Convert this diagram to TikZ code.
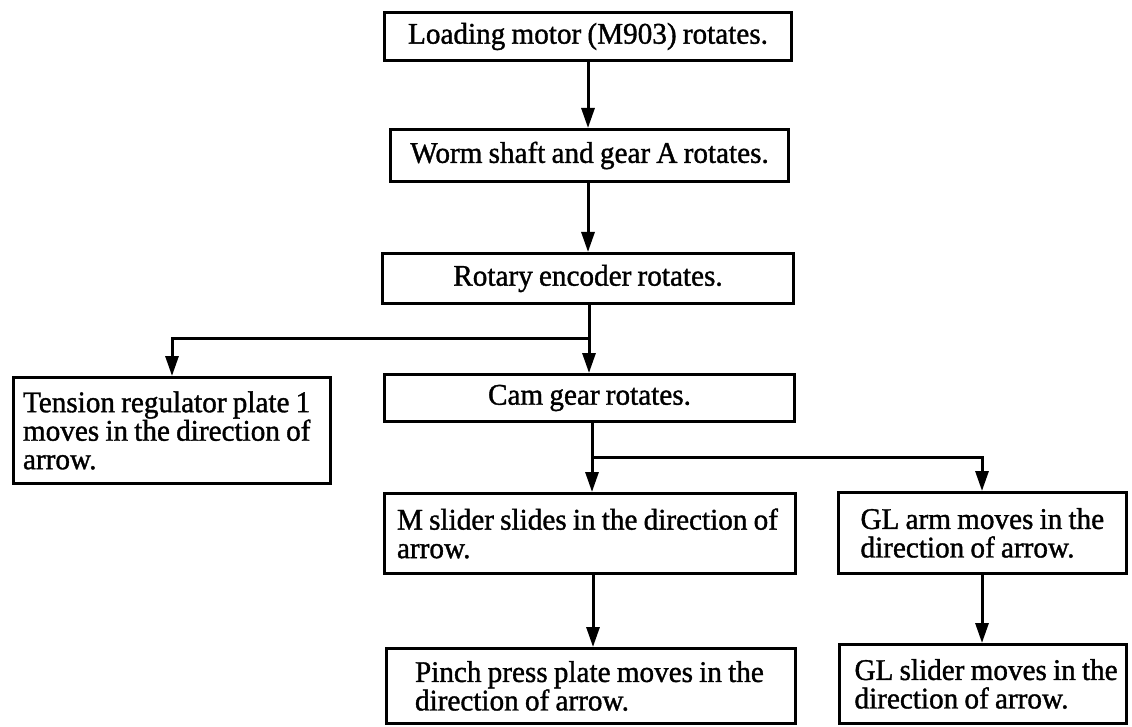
\documentclass[tikz,border=0pt]{standalone}
\usepackage{fontspec}
\setmainfont{Liberation Serif}[FakeStretch=0.973, FakeBold=1.2, WordSpace=0.85]
\usetikzlibrary{arrows.meta}
\newcommand{\plainspaces}{\spaceskip=0pt\xspaceskip=0pt\relax}
\tikzset{
  box/.style={draw=black, line width=3pt, rectangle, inner sep=0pt,
    font=\fontsize{30}{28.5}\selectfont},
  onebox/.style={box, align=center},
  multibox/.style={box, align=flush left},
  arr/.style={line width=3pt, -{Triangle[length=20pt,width=13pt]}},
  lin/.style={line width=3pt}
}
\begin{document}
\begin{tikzpicture}[x=1pt,y=-1pt]
\useasboundingbox (0,0) rectangle (1132,727);
% single-line boxes
\node[onebox, minimum width=407pt, minimum height=48pt] (b1) at (588,36.5) {Loading motor (M903) rotates.};
\node[onebox, minimum width=398pt, minimum height=52pt] (b2) at (589.5,155.5) {Worm shaft and gear A rotates.};
\node[onebox, minimum width=411pt, minimum height=50pt] (b3) at (588,278.5) {Rotary encoder rotates.};
\node[onebox, minimum width=410pt, minimum height=47pt] (cam) at (589.5,398) {Cam gear rotates.};
% multi-line boxes
\node[multibox, minimum height=106pt, text width=298pt, inner xsep=9.5pt] (ten) at (172,430.5)
  {\plainspaces\mbox{Tension regulator plate 1}\\\mbox{moves in the direction of}\\arrow.};
\node[multibox, minimum height=80pt, text width=386pt, inner xsep=12.5pt] (msl) at (590,533.5)
  {\plainspaces\mbox{M slider slides in the direction of}\\arrow.};
\node[multibox, minimum height=81pt, text width=243pt, inner xsep=22.5pt] (gla) at (982,533)
  {\plainspaces\mbox{GL arm moves in the}\\\mbox{direction of arrow.}};
\node[multibox, minimum height=75pt, text width=352pt, inner xsep=28.5pt] (pin) at (591,686)
  {\plainspaces\mbox{Pinch press plate moves in the}\\\mbox{direction of arrow.}};
\node[multibox, minimum height=79pt, text width=256pt, inner xsep=15.5pt] (gls) at (982.5,684)
  {\plainspaces\mbox{GL slider moves in the}\\\mbox{direction of arrow.}};
% junctions
\coordinate (j1) at (589,338);
\coordinate (j2) at (592,457);
% connectors
\draw[arr] (b1.south) -- (b1.south |- b2.north);
\draw[arr] (b2.south -| b1.south) -- (b1.south |- b3.north);
\draw[arr] (j1 |- b3.south) -- (j1 |- cam.north);
\draw[arr] (j1) -| (ten.north);
\draw[lin] (j2 |- cam.south) -- (j2);
\draw[arr] (j2) -- (j2 |- msl.north);
\draw[arr] (j2) -| (gla.north);
\draw[arr] (msl.south -| 593,0) -- (593,647);
\draw[arr] (gla.south) -- (gla.south |- gls.north);
\end{tikzpicture}
\end{document}
